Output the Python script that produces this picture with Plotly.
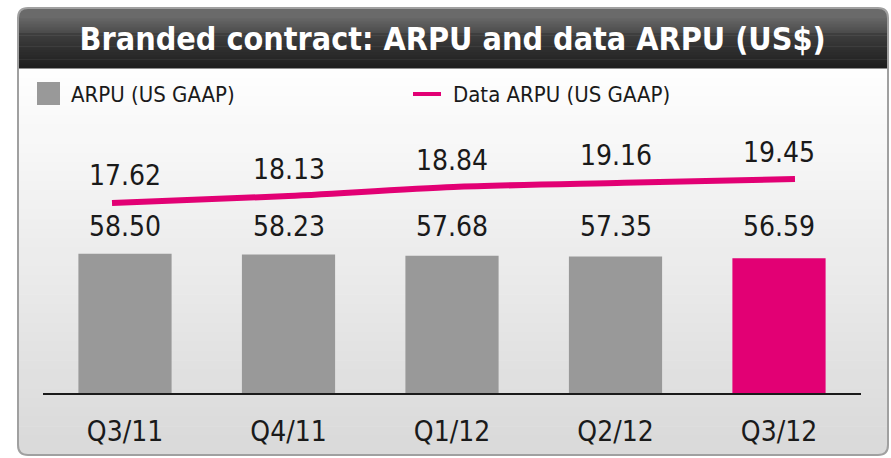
import plotly.graph_objects as go

W, H = 891, 458

# Datos
quarters = ['Q3/11', 'Q4/11', 'Q1/12', 'Q2/12', 'Q3/12']
arpu = [58.50, 58.23, 57.68, 57.35, 56.59]
data_arpu = [17.62, 18.13, 18.84, 19.16, 19.45]
title_text = 'Branded contract: ARPU and data ARPU (US$)'
legend_bar = 'ARPU (US GAAP)'
legend_line = 'Data ARPU (US GAAP)'

MAGENTA = '#e20074'
GREY = '#999999'
FONT = 'DejaVu Sans Condensed, Roboto, sans-serif'


def fnt(size, color='#1a1a1a'):
    return dict(family=FONT, size=size, color=color)


def px(x):
    return x / W


def py(y):
    return 1 - y / H


def mix(c1, c2, t):
    a = [int(c1[i:i + 2], 16) for i in (1, 3, 5)]
    b = [int(c2[i:i + 2], 16) for i in (1, 3, 5)]
    return '#' + ''.join('%02x' % round(a[k] + (b[k] - a[k]) * t) for k in range(3))


shapes = []


def strips(x0, x1, y0, y1, c_top, c_bot, n):
    step = (y1 - y0) / n
    for i in range(n):
        shapes.append(dict(
            type='rect', xref='paper', yref='paper', layer='below',
            x0=px(x0), x1=px(x1), y0=py(y0 + i * step), y1=py(y0 + (i + 1) * step + 0.6),
            fillcolor=mix(c_top, c_bot, i / max(n - 1, 1)), line=dict(width=0)))


L, R, T, B = 18, 888, 8, 455
TB = 68  # fin de la barra de título
r = 10

# cuerpo con degradado
strips(L, R, TB, B - r, '#fefefe', '#dadada', 40)
body_path = (f'M {px(L)},{py(B - r)} L {px(R)},{py(B - r)} '
             f'Q {px(R)},{py(B)} {px(R - r)},{py(B)} L {px(L + r)},{py(B)} '
             f'Q {px(L)},{py(B)} {px(L)},{py(B - r)} Z')
shapes.append(dict(type='path', path=body_path, xref='paper', yref='paper', layer='below',
                   fillcolor='#dadada', line=dict(width=0)))

# barra de título
top_path = (f'M {px(L)},{py(T + r)} Q {px(L)},{py(T)} {px(L + r)},{py(T)} '
            f'L {px(R - r)},{py(T)} Q {px(R)},{py(T)} {px(R)},{py(T + r)} Z')
shapes.append(dict(type='path', path=top_path, xref='paper', yref='paper', layer='below',
                   fillcolor='#6a6a6a', line=dict(width=0)))
strips(L, R, T + r, 33, '#666666', '#4c4c4c', 10)
strips(L, R, 33, TB, '#3e3e3e', '#1e1e1e', 16)

# borde
border = (f'M {px(L)},{py(T + r)} Q {px(L)},{py(T)} {px(L + r)},{py(T)} '
          f'L {px(R - r)},{py(T)} Q {px(R)},{py(T)} {px(R)},{py(T + r)} '
          f'L {px(R)},{py(B - r)} Q {px(R)},{py(B)} {px(R - r)},{py(B)} '
          f'L {px(L + r)},{py(B)} Q {px(L)},{py(B)} {px(L)},{py(B - r)} Z')
shapes.append(dict(type='path', path=border, xref='paper', yref='paper', layer='below',
                   line=dict(color='#a0a0a0', width=2)))

# leyenda manual
shapes.append(dict(type='rect', xref='paper', yref='paper', x0=px(37), x1=px(60), y0=py(82), y1=py(105),
                   fillcolor=GREY, line=dict(width=0)))
shapes.append(dict(type='line', xref='paper', yref='paper', x0=px(413), x1=px(441), y0=py(94), y1=py(94),
                   line=dict(color=MAGENTA, width=4)))

fig = go.Figure()

fig.add_trace(go.Bar(
    x=quarters, y=arpu,
    marker_color=[GREY] * (len(quarters) - 1) + [MAGENTA],
    marker_line_width=0,
    hoverinfo='x+y', showlegend=False))

# la línea va en un eje x propio, algo más ancho que las barras (como en el original)
fig.add_trace(go.Scatter(
    x=quarters, y=data_arpu, xaxis='x2', yaxis='y2', mode='lines',
    line=dict(color=MAGENTA, width=6, shape='spline', smoothing=0.8),
    hoverinfo='x+y', showlegend=False))

annotations = []
for q, v in zip(quarters, arpu):
    annotations.append(dict(x=q, y=70, xref='x', yref='y', text=f'{v:.2f}', showarrow=False,
                            font=fnt(28), yanchor='middle'))
for q, v in zip(quarters, data_arpu):
    annotations.append(dict(x=q, y=v, xref='x', yref='y2', text=f'{v:.2f}', showarrow=False,
                            font=fnt(28), yanchor='middle', yshift=27))
annotations.append(dict(x=px(69), y=py(94), xref='paper', yref='paper', text=legend_bar, showarrow=False,
                        xanchor='left', yanchor='middle', font=fnt(22)))
annotations.append(dict(x=px(451), y=py(94), xref='paper', yref='paper', text=legend_line, showarrow=False,
                        xanchor='left', yanchor='middle', font=fnt(22)))

x_dom = [px(43.25), px(860.75)]
step2 = (795 - 112) / 4
fig.update_layout(
    width=W, height=H,
    margin=dict(l=0, r=0, t=0, b=0),
    paper_bgcolor='white', plot_bgcolor='rgba(0,0,0,0)',
    title=dict(text=f'<b>{title_text}</b>', x=0.508, xanchor='center', y=py(39), yanchor='middle',
               yref='container', font=fnt(32, 'white')),
    bargap=0.43,
    shapes=shapes,
    annotations=annotations,
    xaxis=dict(domain=x_dom, showgrid=False, showline=True, linecolor='#1a1a1a',
               linewidth=2, ticks='', tickfont=fnt(28), ticklabelstandoff=12, fixedrange=True),
    xaxis2=dict(domain=x_dom, overlaying='x', visible=False, fixedrange=True,
                range=[-(112 - 43.25) / step2, 4 + (860.75 - 795) / step2]),
    yaxis=dict(domain=[py(393), py(70)], range=[0, 323 / 2.38], visible=False, fixedrange=True),
    yaxis2=dict(overlaying='y', range=[17.62 - (393 - 203) / 13.11, 19.45 + (179 - 70) / 13.11],
                visible=False, fixedrange=True),
)

# quitar el margen por defecto del <body> para que la figura ocupe toda la ventana
fig.write_html('out.html', config={'displayModeBar': False},
               post_script="document.body.style.margin='0';")
